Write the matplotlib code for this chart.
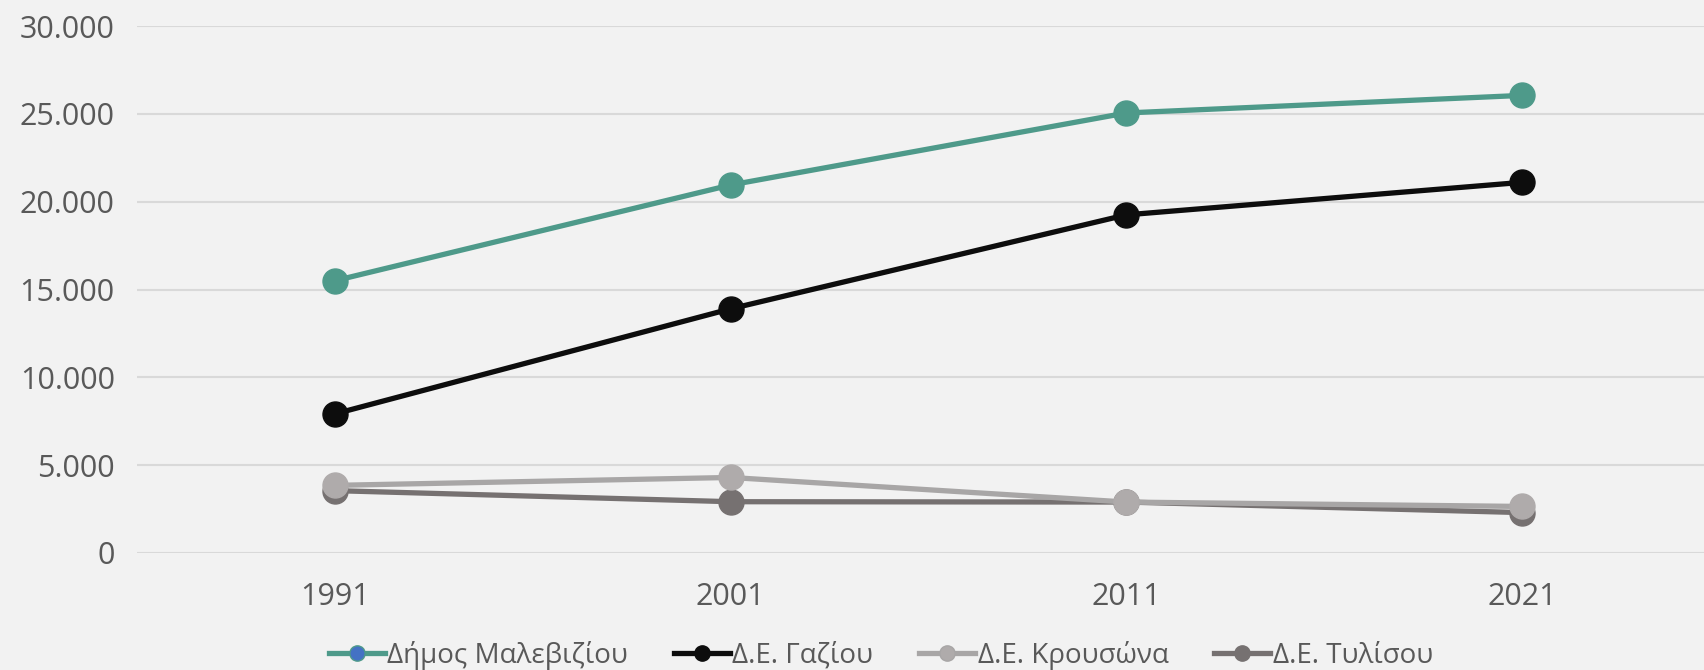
import matplotlib.pyplot as plt
from matplotlib.lines import Line2D
from matplotlib.ticker import FuncFormatter

years = ["1991", "2001", "2011", "2021"]
malevizi = [15500, 20950, 25050, 26050]
gazi = [7920, 13900, 19250, 21100]
krousonas = [3850, 4300, 2900, 2650]
tylisos = [3550, 2920, 2900, 2300]

labels = ["Δήμος Μαλεβιζίου", "Δ.Ε. Γαζίου", "Δ.Ε. Κρουσώνα", "Δ.Ε. Τυλίσου"]
colors = ["#4E9A8A", "#0D0D0D", "#A8A6A6", "#767171"]
marker_colors = ["#4E9A8A", "#0D0D0D", "#AFABAB", "#767171"]

plt.rcParams['font.family'] = ['Open Sans', 'DejaVu Sans']

fig = plt.figure(figsize=(17.04, 6.70), dpi=100, facecolor="#F2F2F2")
ax = fig.add_axes([137 / 1704, 117 / 670, (1720 - 137) / 1704, (553 - 26) / 670])
ax.set_facecolor("#F2F2F2")

x = list(range(len(years)))
series = [malevizi, gazi, krousonas, tylisos]
zorders = [5, 6, 4, 3]
for vals, c, mc, z in zip(series, colors, marker_colors, zorders):
    ax.plot(x, vals, color=c, lw=3.8, marker="o", ms=18,
            markerfacecolor=mc, markeredgecolor=mc, zorder=z, solid_capstyle="round")

ax.set_xlim(-0.5, 3.5)
ax.set_ylim(0, 30000)
ax.set_yticks(range(0, 30001, 5000))
ax.yaxis.set_major_formatter(FuncFormatter(lambda v, p: f"{int(v):,}".replace(",", ".")))
ax.set_xticks(x)
ax.set_xticklabels(years)
ax.grid(axis="y", color="#D9D9D9", lw=1.5)
ax.set_axisbelow(True)
for s in ax.spines.values():
    s.set_visible(False)
ax.tick_params(axis="both", length=0, labelsize=22, labelcolor="#595959")
ax.tick_params(axis="y", pad=16)
ax.tick_params(axis="x", pad=21)

handles = []
for i, (lab, c, mc) in enumerate(zip(labels, colors, marker_colors)):
    face = "#4472C4" if i == 0 else mc
    handles.append(Line2D([0], [0], color=c, lw=3.8, marker="o", ms=11,
                          markerfacecolor=face, markeredgecolor=c, label=lab))
fig.legend(handles=handles, loc="center", bbox_to_anchor=(0.517, 0.022), ncol=4,
           frameon=False, fontsize=20, labelcolor="#595959", handlelength=2.0,
           handletextpad=0.1, columnspacing=1.65)

fig.savefig("out.png", dpi=100, facecolor=fig.get_facecolor())
